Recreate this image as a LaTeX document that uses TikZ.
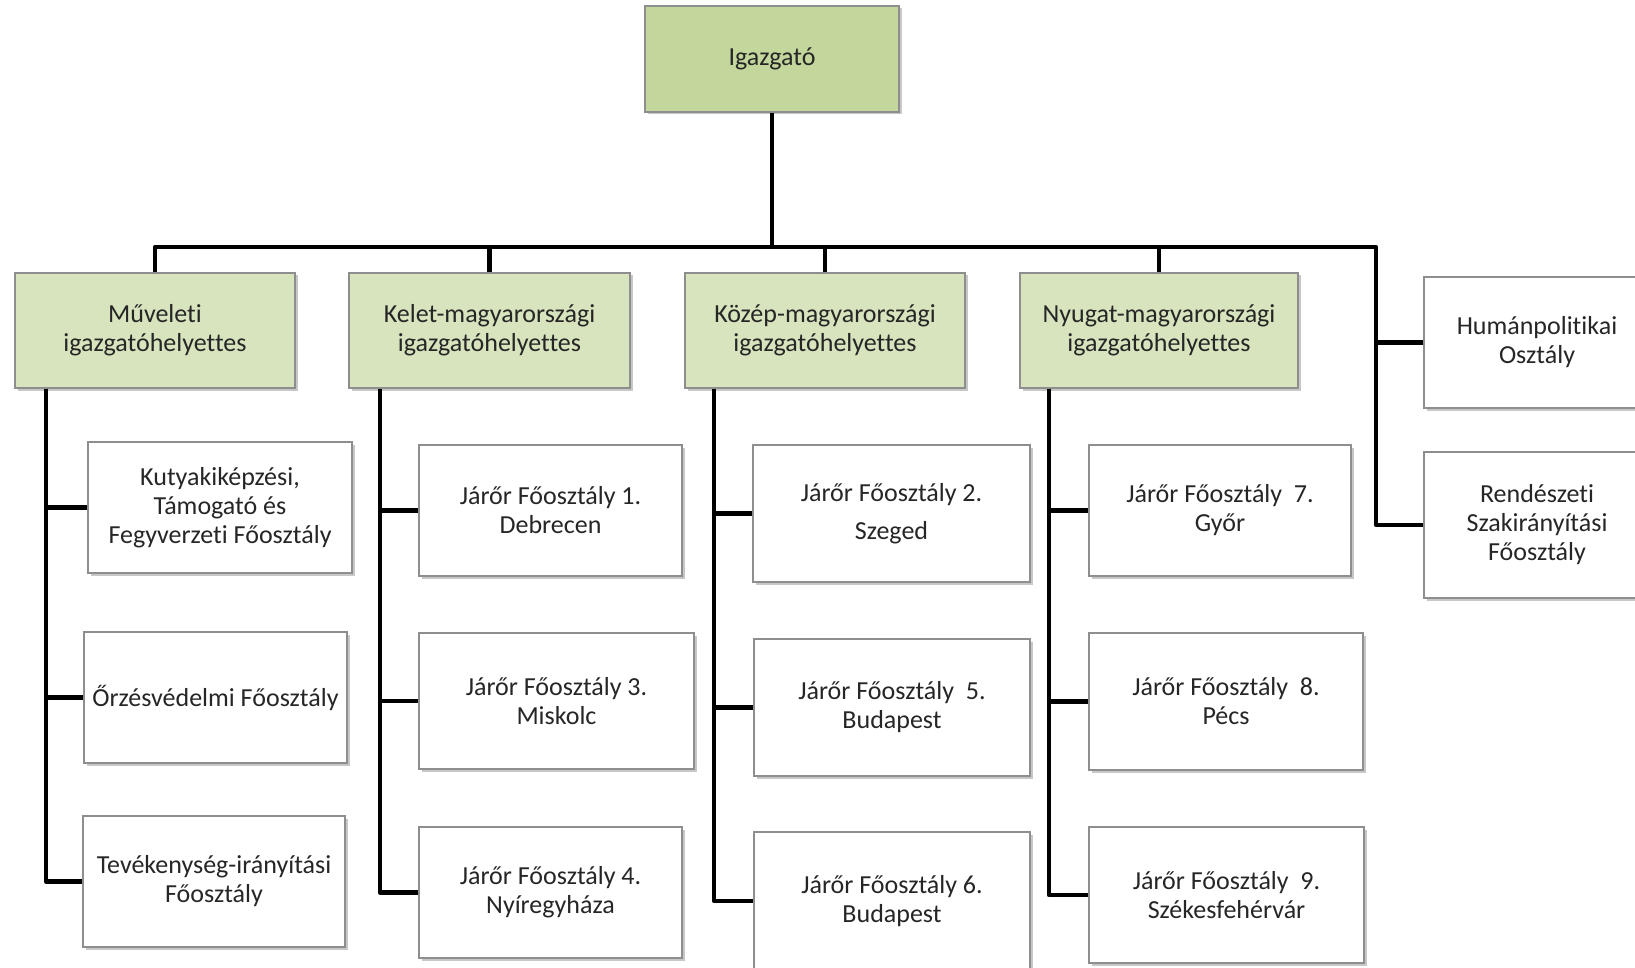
\documentclass[tikz,border=0pt]{standalone}
\usepackage{fontspec}
\setmainfont{Carlito}[Ligatures=NoCommon]
\usetikzlibrary{shadows}
\definecolor{topgreen}{HTML}{C3D69B}
\definecolor{midgreen}{HTML}{D7E4BD}
\definecolor{boxline}{HTML}{8E8E8E}
\definecolor{txt}{HTML}{262626}
\tikzset{
  base/.style={draw=boxline, line width=1.1pt, align=center, text=txt,
    font=\fontsize{26}{29}\selectfont, inner sep=0pt,
    drop shadow={shadow xshift=2.5pt, shadow yshift=-2.5pt, fill=black, opacity=0.22}},
  topbox/.style={base, fill=topgreen},
  midbox/.style={base, fill=midgreen},
  leafbox/.style={base, fill=white},
  conn/.style={line width=4.5pt, black, line join=round},
}
\begin{document}
\begin{tikzpicture}[x=1pt, y=-1pt]
\useasboundingbox (0,0) rectangle (1635,968);
\clip (0,0) rectangle (1635,968);
\fill[white] (0,0) rectangle (1635,968);

% top
\node[topbox, minimum width=254pt, minimum height=106pt] (top) at (772,59) {Igazgató};

% second level
\node[midbox, minimum width=280pt, minimum height=115pt] (m1) at (155,330.5) {Műveleti\\igazgatóhelyettes};
\node[midbox, minimum width=281pt, minimum height=115pt] (m2) at (489.5,330.5) {Kelet-magyarországi\\igazgatóhelyettes};
\node[midbox, minimum width=280pt, minimum height=115pt] (m3) at (825,330.5) {Közép-magyarországi\\igazgatóhelyettes};
\node[midbox, minimum width=278pt, minimum height=115pt] (m4) at (1159,330.5) {Nyugat-magyarországi\\igazgatóhelyettes};

% staff
\node[leafbox, minimum width=226pt, minimum height=131pt] (h1) at (1537,342.5) {Humánpolitikai\\Osztály};
\node[leafbox, minimum width=226pt, minimum height=146pt] (h2) at (1537,525) {Rendészeti\\Szakirányítási\\Főosztály};

% column 1
\node[leafbox, minimum width=264pt, minimum height=131pt] (c11) at (220,507.5) {Kutyakiképzési,\\Támogató és\\Fegyverzeti Főosztály};
\node[leafbox, minimum width=263pt, minimum height=131pt] (c12) at (215.5,697.5) {Őrzésvédelmi Főosztály};
\node[leafbox, minimum width=262pt, minimum height=131pt] (c13) at (214,881.5) {Tevékenység-irányítási\\Főosztály};

% column 2
\node[leafbox, minimum width=263pt, minimum height=131pt] (c21) at (550.5,510.5) {Járőr Főosztály 1.\\Debrecen};
\node[leafbox, minimum width=275pt, minimum height=136pt] (c22) at (556.5,701) {Járőr Főosztály 3.\\Miskolc};
\node[leafbox, minimum width=263pt, minimum height=131pt] (c23) at (550.5,892.5) {Járőr Főosztály 4.\\Nyíregyháza};

% column 3
\node[leafbox, minimum width=277pt, minimum height=137pt] (c31) at (891.5,513.5) {Járőr Főosztály 2.\\[9pt]Szeged};
\node[leafbox, minimum width=276pt, minimum height=137pt] (c32) at (892,707.5) {Járőr Főosztály\ \ 5.\\Budapest};
\node[leafbox, minimum width=276pt, minimum height=138pt] (c33) at (892,901) {Járőr Főosztály 6.\\Budapest};

% column 4
\node[leafbox, minimum width=262pt, minimum height=131pt] (c41) at (1220,510.5) {Járőr Főosztály\ \ 7.\\Győr};
\node[leafbox, minimum width=274pt, minimum height=137pt] (c42) at (1226,701.5) {Járőr Főosztály\ \ 8.\\Pécs};
\node[leafbox, minimum width=275pt, minimum height=136pt] (c43) at (1226.5,895) {Járőr Főosztály\ \ 9.\\Székesfehérvár};

% helper coordinates
\coordinate (busR) at (1376,247);
\coordinate (v1) at (46,0);
\coordinate (v2) at (380,0);
\coordinate (v3) at (714,0);
\coordinate (v4) at (1049,0);

% bus
\draw[conn] (top.south) -- (top.south |- busR);
\draw[conn] (m1.north) |- (busR) |- (h2.west);
\draw[conn] (m2.north) -- (m2.north |- busR);
\draw[conn] (m3.north) -- (m3.north |- busR);
\draw[conn] (m4.north) -- (m4.north |- busR);
\draw[conn] (busR |- h1.west) -- (h1.west);

% column 1
\draw[conn] (m1.south -| v1) |- (c13.west);
\draw[conn] (c11.west -| v1) -- (c11.west);
\draw[conn] (c12.west -| v1) -- (c12.west);
% column 2
\draw[conn] (m2.south -| v2) |- (c23.west);
\draw[conn] (c21.west -| v2) -- (c21.west);
\draw[conn] (c22.west -| v2) -- (c22.west);
% column 3
\draw[conn] (m3.south -| v3) |- (c33.west);
\draw[conn] (c31.west -| v3) -- (c31.west);
\draw[conn] (c32.west -| v3) -- (c32.west);
% column 4
\draw[conn] (m4.south -| v4) |- (c43.west);
\draw[conn] (c41.west -| v4) -- (c41.west);
\draw[conn] (c42.west -| v4) -- (c42.west);
\end{tikzpicture}
\end{document}
